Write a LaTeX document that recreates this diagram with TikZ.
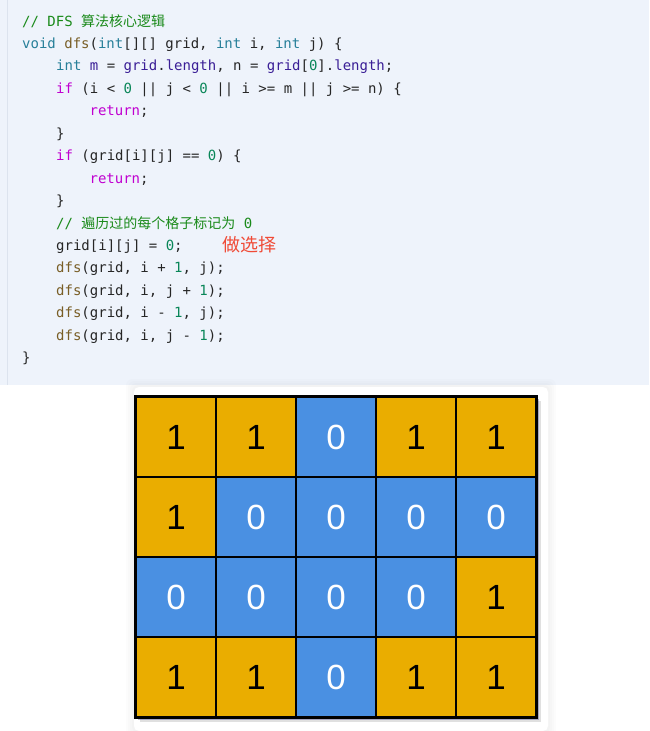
\documentclass[tikz,border=0pt]{standalone}
\usepackage{fontspec}
\setmonofont{DejaVu Sans Mono}
\setsansfont{Liberation Sans}
\newfontfamily\cjk{Noto Sans CJK SC}
\usetikzlibrary{positioning}

\definecolor{codebg}{HTML}{EEF3FB}
\definecolor{codeedge}{HTML}{DCE3EE}
\definecolor{cmt}{HTML}{1A8A1A}
\definecolor{typ}{HTML}{267F99}
\definecolor{fun}{HTML}{795E26}
\definecolor{ctl}{HTML}{C000D0}
\definecolor{num}{HTML}{098658}
\definecolor{vr}{HTML}{3A1E96}
\definecolor{note}{HTML}{F04A36}
\definecolor{land}{HTML}{EAAD00}
\definecolor{sea}{HTML}{4A90E2}

\newcommand{\kw}[1]{\textcolor{typ}{#1}}
\newcommand{\fn}[1]{\textcolor{fun}{#1}}
\newcommand{\ct}[1]{\textcolor{ctl}{#1}}
\newcommand{\nm}[1]{\textcolor{num}{#1}}
\newcommand{\vn}[1]{\textcolor{vr}{#1}}

\tikzset{
  code/.style={anchor=base west, inner sep=0pt, text=black!85,
    font=\ttfamily\fontsize{14}{14}\selectfont},
  cmtline/.style={code, text=cmt},
  cell/.style={draw=black, line width=1.3pt, minimum size=80pt, inner sep=0pt,
    font=\sffamily\fontsize{35}{35}\selectfont},
  cell0/.style={cell, fill=sea, text=white},
  cell1/.style={cell, fill=land, text=black}
}

\begin{document}
\begin{tikzpicture}[x=1pt, y=-1pt]
  \useasboundingbox (0,0) rectangle (649,731);

  % code block
  \fill[codebg] (0,0) rectangle (649,385);
  \draw[codeedge, line width=1pt] (7,0) -- (7,385);

  \node[cmtline] (l1) at (22,26) {// DFS {\cjk 算法核心逻辑}};
  \node[code] (l2) at (22,48.45) {\kw{void} \fn{dfs}(\kw{int}[][] grid, \kw{int} i, \kw{int} j) \{};
  \node[code] (l3) at (56,70.9) {\kw{int} \vn{m} = \vn{grid}.\vn{length}, n = \vn{grid}[\nm{0}].\vn{length};};
  \node[code] (l4) at (56,93.35) {\ct{if} (i < \nm{0} || j < \nm{0} || i >= m || j >= n) \{};
  \node[code] (l5) at (89.4,115.8) {\ct{return};};
  \node[code] (l6) at (56,138.25) {\}};
  \node[code] (l7) at (56,160.7) {\ct{if} (grid[i][j] == \nm{0}) \{};
  \node[code] (l8) at (89.4,183.15) {\ct{return};};
  \node[code] (l9) at (56,205.6) {\}};
  \node[cmtline] (l10) at (56,228.05) {// {\cjk 遍历过的每个格子标记为} 0};
  \node[code] (l11) at (56,250.5) {grid[i][j] = \nm{0};};
  \node[code] (l12) at (56,272.95) {\fn{dfs}(grid, i + \nm{1}, j);};
  \node[code] (l13) at (56,295.4) {\fn{dfs}(grid, i, j + \nm{1});};
  \node[code] (l14) at (56,317.85) {\fn{dfs}(grid, i - \nm{1}, j);};
  \node[code] (l15) at (56,340.3) {\fn{dfs}(grid, i, j - \nm{1});};
  \node[code] (l16) at (22,362.75) {\}};

  \node[anchor=base west, inner sep=0pt, text=note,
    font=\cjk\fontsize{18}{18}\selectfont] (pick) at (222,251) {做选择};

  % panel with soft glow
  \foreach \g in {8,6,4,2}
    \fill[black, opacity=0.012, rounded corners=6pt]
      (134-\g,387-\g) rectangle (548+\g,731+\g);
  \fill[white, rounded corners=5pt] (134,387) rectangle (548,731);

  % grid shadow
  \fill[black, opacity=0.12] (140,401) rectangle (541,722);
  \fill[black!60!blue, opacity=0.25] (138,399) rectangle (539,719.5);

  % grid
  \foreach \row [count=\r] in {{1,1,0,1,1},{1,0,0,0,0},{0,0,0,0,1},{1,1,0,1,1}}
    \foreach \v [count=\c] in \row
      \node[cell\v] (c-\r-\c) at (96+80*\c, 357+80*\r) {\v};
  \draw[line width=2pt] (c-1-1.north west) rectangle (c-4-5.south east);
\end{tikzpicture}
\end{document}
